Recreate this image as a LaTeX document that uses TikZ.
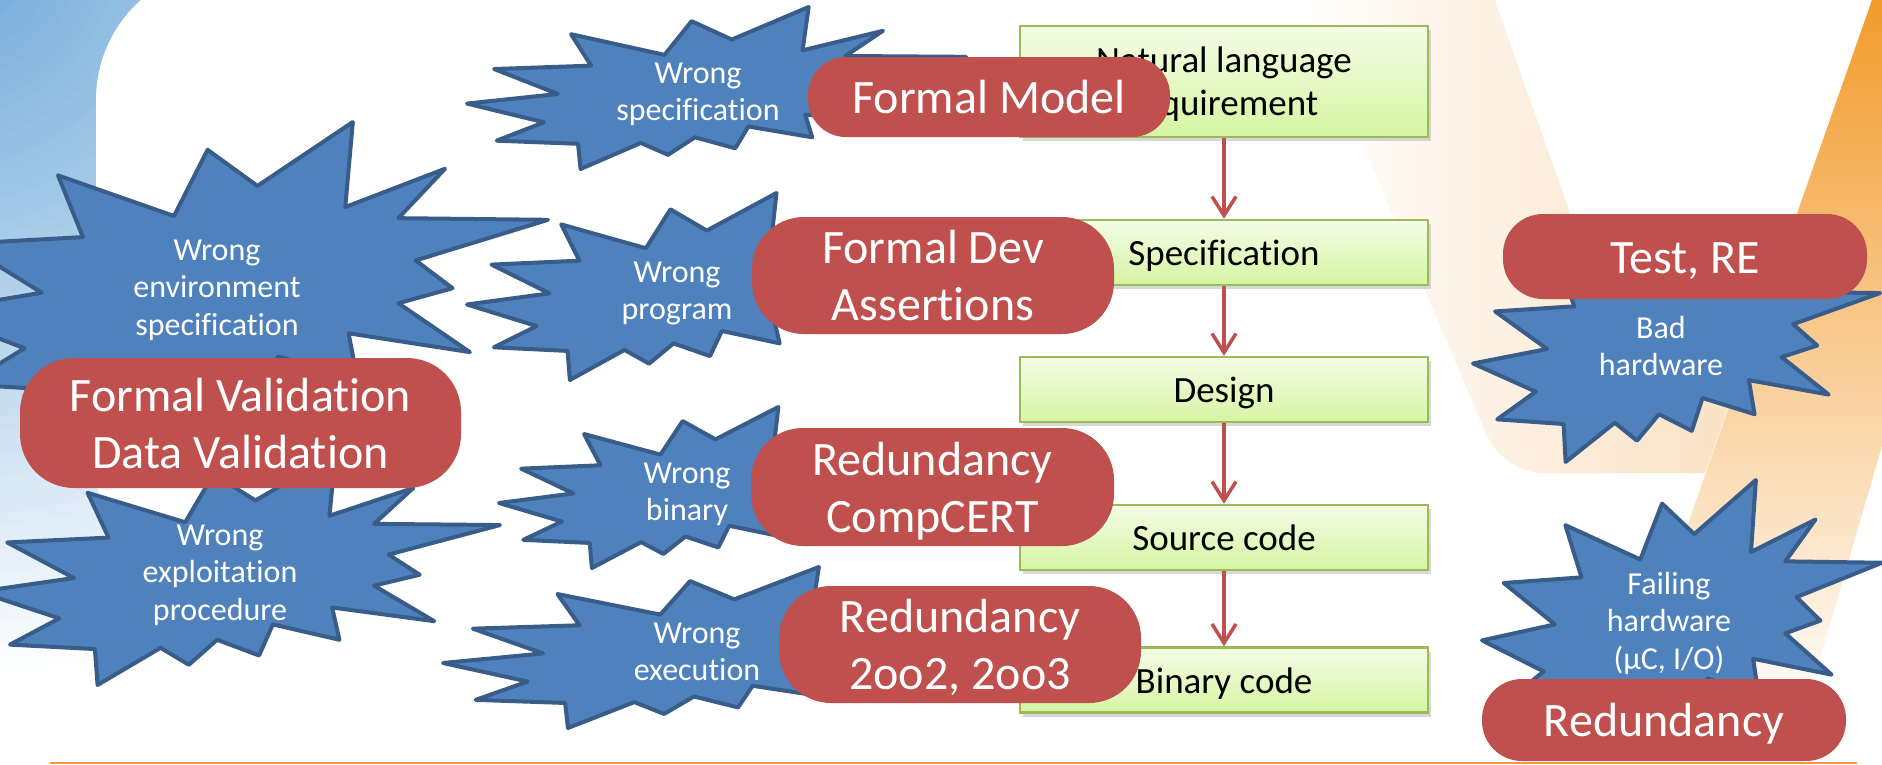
\documentclass[tikz,border=0pt]{standalone}
\usepackage{fontspec}
\setmainfont{Carlito}[Ligatures=NoCommon]
\usetikzlibrary{arrows.meta,shadows}

\definecolor{bgblue}{HTML}{6AA6D8}
\definecolor{starfill}{HTML}{4F81BD}
\definecolor{stardraw}{HTML}{385D8A}
\definecolor{pillred}{HTML}{C0504D}
\definecolor{boxgreen}{HTML}{9BBB59}
\definecolor{boxtop}{HTML}{F4FCE7}
\definecolor{boxbot}{HTML}{D6F5A2}
\definecolor{arrred}{HTML}{C0504D}
\definecolor{orangeS}{HTML}{F29B2C}
\definecolor{beige}{HTML}{FADFBF}
\definecolor{lineorange}{HTML}{F79646}

\newcommand\drawboom[4]{%
\begin{scope}[shift={(#1,#2)},xscale=#3/100,yscale=#4/100]
\draw[boomsty] (53.06,20.10) -- (68.47,0) -- (67.25,26.75) -- (83.37,14.69) -- (75.83,30.24) -- (100,30.76) -- (78.63,43.53) -- (84.58,52.27) -- (75.83,56.99) -- (87.39,72.37) -- (67.78,66.44) -- (69.18,80.42) -- (56.39,73.77) -- (53.76,87.23) -- (45.70,80.42) -- (40.28,91.26) -- (34.85,83.91) -- (22.76,100) -- (22.25,84.44) -- (5.95,82.52) -- (15.42,71.16) -- (0,59.62) -- (18.22,53.67) -- (5.43,38.29) -- (24.87,36.19) -- (20.84,16.78) -- (39.58,29.55) -- (45.01,8.74) -- cycle;
\end{scope}}

\begin{document}
\begin{tikzpicture}[x=1pt,y=-1pt,
  boomsty/.style={fill=starfill,draw=stardraw,line width=4pt,line join=round},
  startext/.style={text=white,align=center,inner sep=0pt,font=\fontsize{32pt}{37.5pt}\selectfont},
  pill/.style={fill=pillred,rounded corners=#1,text=white,align=center,inner sep=0pt,font=\fontsize{48pt}{57pt}\selectfont},
  pline/.style={text height=33.5pt,text depth=0pt},
  gbox/.style={draw=boxgreen,line width=2.5pt,top color=boxtop,bottom color=boxbot,minimum width=408pt,inner sep=0pt,align=center,text=black,font=\fontsize{37pt}{43pt}\selectfont,drop shadow={opacity=0.3,shadow xshift=3pt,shadow yshift=-4pt}},
  gline/.style={text height=26pt,text depth=0pt},
  flow/.style={draw=arrred,line width=3.5pt,-{Straight Barb[length=19pt,width=24pt]}}
]
\useasboundingbox (0,0) rectangle (1882,764);
\clip (0,0) rectangle (1882,764);
\fill[white] (0,0) rectangle (1882,764);

% left blue background
\begin{scope}
\clip (424,118) circle[radius=700];
\foreach \r in {780,768,...,12} {%
  \pgfmathsetmacro\bgmix{min(100,\r/7.5)}%
  \fill[white!\bgmix!bgblue] (-60,-60) circle[radius=\r];
}
\end{scope}
\fill[white,rounded corners=134pt] (96,-34) rectangle (2100,600);
\fill[white,rounded corners=100pt] (380,500) rectangle (2100,900);

% right orange background
\shade[left color=white,right color=beige] (1290,-25) -- (1486,-25) -- (1597,290) -- (1770,290) -- (1705,473) [rounded corners=40pt] -- (1503,473) -- cycle;
\shade[top color=orangeS,bottom color=white] (1872,0) -- (1910,0) -- (1910,350) -- (1802,720) -- (1619,720) -- cycle;

\draw[lineorange,line width=2.5pt] (50,763) -- (1857,763);

% flow boxes
\node[gbox,minimum height=111pt] (b1) at (1224,81.5) {Natural language\\\smash{requirement}};
\node[gbox,gline,minimum height=65pt] (b2) at (1224,252.5) {Specification};
\node[gbox,gline,minimum height=65pt] (b3) at (1224,389.5) {Design};
\node[gbox,gline,minimum height=65pt] (b4) at (1224,537.5) {Source code};
\node[gbox,gline,minimum height=65pt] (b5) at (1224,680) {Binary code};
\foreach \a/\b in {b1/b2,b2/b3,b3/b4,b4/b5} \draw[flow] (\a.south) -- (\b.north);

% explosions
\drawboom{467}{7}{499}{162}
\drawboom{-71}{122}{619}{318}
\drawboom{467}{193}{452}{187}
\drawboom{-21}{454}{521}{231}
\drawboom{499}{407}{408}{161}
\drawboom{443}{567}{549}{161}
\drawboom{1473}{218}{407}{244}
\drawboom{1482}{480}{400}{269}

\node[startext] (t1) at (698,91.75) {Wrong\\\smash{specification}};
\node[startext] (t2) at (217,287.5) {Wrong\\environment\\\smash{specification}};
\node[startext] (t3) at (677,290.75) {Wrong\\\smash{program}};
\node[startext] (t4) at (220,572.5) {Wrong\\exploitation\\\smash{procedure}};
\node[startext] (t5) at (687,491.75) {Wrong\\\smash{binary}};
\node[startext] (t6) at (697,651.75) {Wrong\\\smash{execution}};
\node[startext] (t7) at (1661,345.75) {Bad\\\smash{hardware}};
\node[startext] (t8) at (1669,620.5) {Failing\\hardware\\\smash{(µC, I/O)}};

% mitigation pills
\node[pill=38pt,pline,minimum width=362pt,minimum height=80pt] (p1) at (989,97) {Formal Model};
\node[pill=52pt,minimum width=362pt,minimum height=117pt] (p2) at (933,275.5) {Formal Dev\\\smash{Assertions}};
\node[pill=54pt,minimum width=441pt,minimum height=130pt] (p3) at (240.5,423) {Formal Validation\\\smash{Data Validation}};
\node[pill=52pt,minimum width=363pt,minimum height=118pt] (p4) at (932.5,487) {Redundancy\\\smash{CompCERT}};
\node[pill=52pt,minimum width=362pt,minimum height=117pt] (p5) at (960,644.5) {Redundancy\\\smash{2oo2, 2oo3}};
\node[pill=40pt,pline,minimum width=364pt,minimum height=85pt] (p6) at (1685,256.5) {Test, RE};
\node[pill=40pt,pline,minimum width=364pt,minimum height=82pt] (p7) at (1664,720) {Redundancy};
\end{tikzpicture}
\end{document}
